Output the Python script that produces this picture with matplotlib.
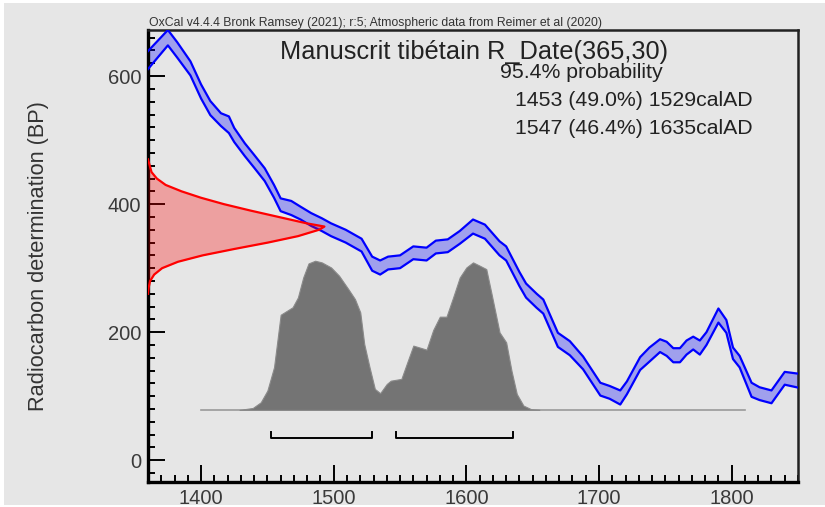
import matplotlib
matplotlib.use("Agg")
import matplotlib.pyplot as plt
import numpy as np
from matplotlib.patches import Rectangle
from matplotlib.ticker import MultipleLocator

plt.rcParams['font.family'] = ['Liberation Sans', 'DejaVu Sans']

# calibration curve (IntCal20)
cal_year = [1360, 1375, 1382, 1392, 1400, 1407, 1415, 1421, 1425, 1433, 1440, 1448,
            1455, 1460, 1468, 1475, 1483, 1491, 1498, 1509, 1521, 1529, 1535, 1541,
            1550, 1560, 1570, 1577, 1586, 1595, 1605, 1614, 1625, 1630, 1640, 1645,
            1653, 1658, 1669, 1678, 1688, 1701, 1708, 1716, 1721, 1731, 1738, 1746,
            1751, 1756, 1761, 1766, 1771, 1776, 1781, 1790, 1796, 1801, 1806, 1815,
            1821, 1830, 1840, 1851]
cal_bp = [625, 660, 641, 612, 576, 550, 532, 524, 508, 485, 467, 446,
          420, 399, 394, 386, 376, 368, 360, 350, 336, 307, 301, 308,
          310, 324, 322, 333, 335, 348, 365, 357, 331, 323, 283, 265,
          249, 240, 188, 175, 152, 111, 106, 98, 113, 151, 165, 179,
          174, 164, 164, 176, 183, 176, 190, 226, 209, 167, 154, 110,
          104, 99, 128, 124]
cal_sigma = [14, 12, 12, 11, 11, 11, 10, 13, 11, 10, 10, 10,
             10, 10, 11, 10, 10, 10, 10, 10, 10, 11, 11, 10,
             10, 10, 10, 10, 10, 10, 11, 11, 11, 11, 11, 11,
             11, 11, 11, 11, 10, 10, 10, 11, 10, 10, 11, 10,
             11, 11, 11, 11, 10, 11, 10, 11, 10, 9, 9, 11,
             10, 10, 10, 11]

meas_bp = [470, 460, 450, 440, 430, 420, 410, 400, 390, 380, 370, 365,
           360, 350, 340, 330, 320, 310, 300, 290, 280, 270, 260]
meas_p = [0.0, 0.01, 0.02, 0.05, 0.1, 0.19, 0.3, 0.43, 0.58, 0.74, 0.9, 1.0,
          0.97, 0.85, 0.68, 0.49, 0.31, 0.17, 0.08, 0.035, 0.012, 0.004, 0.0]

# calibrated date probability, relative
post_year = [1429, 1439, 1445, 1450, 1455, 1460, 1469, 1473, 1477, 1481, 1486, 1491,
             1498, 1504, 1511, 1516, 1520, 1523, 1527, 1531, 1535, 1540, 1543, 1551,
             1555, 1560, 1566, 1570, 1575, 1580, 1585, 1590, 1595, 1600, 1605, 1610,
             1615, 1619, 1625, 1630, 1634, 1638, 1643, 1649, 1655]
post_p = [0.0, 0.013, 0.051, 0.13, 0.286, 0.638, 0.688, 0.754, 0.888, 0.982, 1.0, 0.989,
          0.955, 0.9, 0.81, 0.743, 0.654, 0.442, 0.286, 0.141, 0.112, 0.174, 0.196, 0.208,
          0.308, 0.431, 0.415, 0.404, 0.536, 0.625, 0.625, 0.754, 0.888, 0.955, 0.989, 0.967,
          0.944, 0.777, 0.52, 0.453, 0.263, 0.107, 0.029, 0.004, 0.0]

ranges = [(1453, 1529), (1547, 1635)]
range_text = ["1453 (49.0%) 1529calAD", "1547 (46.4%) 1635calAD"]

bg = '#e6e6e6'
fig = plt.figure(figsize=(8.25, 5.07), dpi=100, facecolor='white')
fig.patches.append(Rectangle((4 / 825, 0.004), 1, 0.99, transform=fig.transFigure,
                             facecolor=bg, edgecolor='none', zorder=-10))
ax = fig.add_axes([148 / 825, 1 - 482 / 507, 650 / 825, 452 / 507])
ax.set_facecolor(bg)
ax.set_xlim(1360, 1850)
ax.set_ylim(-34, 672)

# calibration curve band
cy = np.array(cal_year)
cb = np.array(cal_bp)
cs = np.array(cal_sigma)
ax.fill_between(cy, cb - cs, cb + cs, color='#0000ff', alpha=0.3, lw=0, zorder=2)
ax.plot(cy, cb + cs, color='#0000ff', lw=1.6, zorder=3)
ax.plot(cy, cb - cs, color='#0000ff', lw=1.6, zorder=3)

# measurement distribution on the y axis
mx = 1360 + np.array(meas_p) * 133
ax.fill_betweenx(meas_bp, 1360, mx, color='#ff0000', alpha=0.3, lw=0, zorder=4)
ax.plot(mx, meas_bp, color='#ff0000', lw=1.6, zorder=5)

# calibrated distribution
base = 78.6
py = base + np.array(post_p) * 233
ax.plot([1400, 1810], [base, base], color='#9a9a9a', lw=1.2, zorder=1)
ax.fill_between(post_year, base, py, color='#747474', edgecolor='#8a8a8a', lw=0.8, zorder=1)

# 95.4% range brackets
for a, b in ranges:
    ax.plot([a, a, b, b], [44.5, 34.4, 34.4, 44.5], color='black', lw=1.4, zorder=3)

ax.xaxis.set_major_locator(MultipleLocator(100))
ax.xaxis.set_minor_locator(MultipleLocator(10))
ax.yaxis.set_major_locator(MultipleLocator(200))
ax.yaxis.set_minor_locator(MultipleLocator(20))
ax.tick_params(which='both', direction='in', top=False, right=False, colors='black',
               labelcolor='#3a3a3a', labelsize=14.5, width=1.4)
ax.tick_params(which='major', length=12, pad=5)
ax.tick_params(which='minor', length=5)
for side in ['left', 'bottom']:
    ax.spines[side].set_linewidth(2.4)
for side in ['top', 'right']:
    ax.spines[side].set_linewidth(1.8)
    ax.spines[side].set_color('#222222')

ax.set_ylabel('Radiocarbon determination (BP)', fontsize=15.7, color='#333333', labelpad=42)

fig.text(149 / 825, 1 - 23 / 507,
         'OxCal v4.4.4 Bronk Ramsey (2021); r:5; Atmospheric data from Reimer et al (2020)',
         fontsize=8.8, color='#333333', ha='left', va='center')
fig.text(474 / 825, 1 - 51.5 / 507, 'Manuscrit tibétain R_Date(365,30)',
         fontsize=18.3, color='#222222', ha='center', va='center')
fig.text(500 / 825, 1 - 72.5 / 507, '95.4% probability',
         fontsize=15.3, color='#222222', ha='left', va='center')
for i, t in enumerate(range_text):
    fig.text(515 / 825, 1 - (100.8 + 28.2 * i) / 507, t,
             fontsize=15.3, color='#222222', ha='left', va='center')

fig.savefig('out.png', dpi=100, facecolor='white')
